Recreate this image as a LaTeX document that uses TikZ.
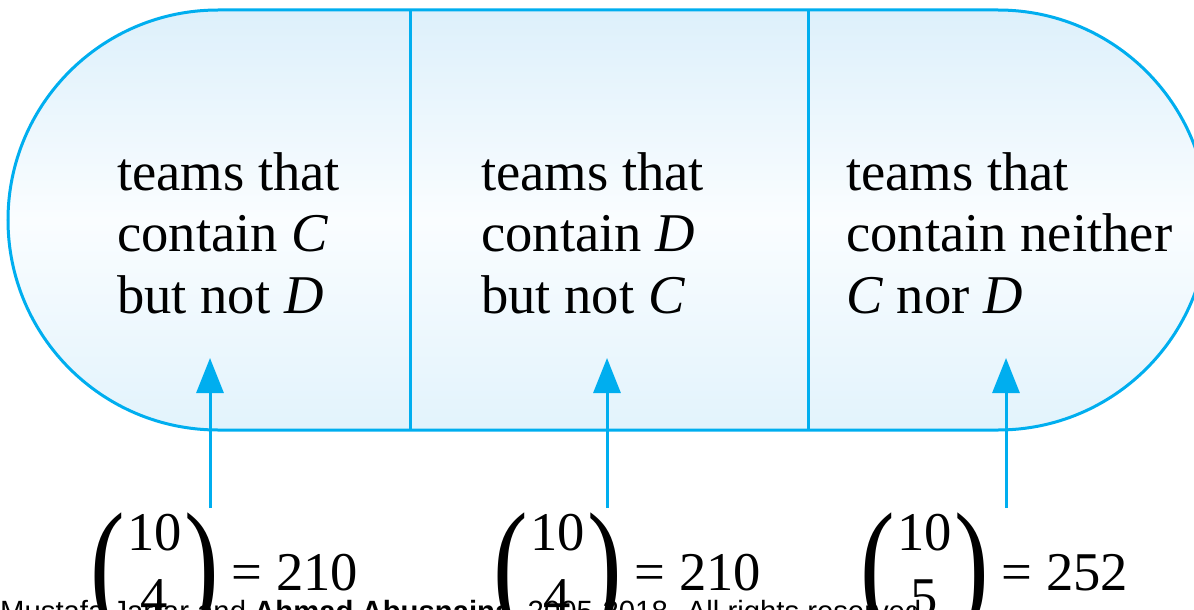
\RequirePackage{fix-cm}
\documentclass[tikz,border=0pt]{standalone}
\usepackage{graphicx}
\usepackage{fontspec}
\setmainfont{Liberation Serif}
\newfontfamily\marksans{Liberation Sans}
\usetikzlibrary{arrows.meta}
\definecolor{rim}{HTML}{00AEEF}
\definecolor{paletop}{HTML}{DDF0FB}
\definecolor{palemid}{HTML}{FAFDFF}
\definecolor{palebot}{HTML}{E2F3FC}
\tikzset{
  region/.style  ={draw=rim,line width=3pt,top color=paletop,
                   bottom color=palebot,middle color=palemid},
  divider/.style ={draw=rim,line width=3pt},
  setlabel/.style={anchor=base west,align=left,inner sep=0pt,
                   font=\fontsize{54.6}{61.5}\selectfont},
  count/.style   ={anchor=base west,inner sep=0pt,
                   font=\fontsize{54.6}{61.5}\selectfont},
  arr/.style     ={draw=rim,line width=3pt,-{Triangle[length=35pt,width=27pt]}}
}
\newcommand{\tallpar}[1]{\raisebox{-20pt}{\scalebox{1.9}[2.58]{#1}}}
\newcommand{\teamcount}[3]{\tallpar{(}\hspace{2.4pt}%
  \raisebox{-25pt}{\begin{tabular}[b]{@{}c@{}}#1\\[3.5pt]#2\end{tabular}}%
  \hspace{2.4pt}\tallpar{)}\hspace{12.7pt}=\hspace{14pt}#3}

\begin{document}
\begin{tikzpicture}[x=1pt,y=-1pt]
  \useasboundingbox (0,0) rectangle (1194,610);
  \clip (0,0) rectangle (1194,610);

  % Stadium
  \path[region] (218,10) -- (998,10) arc(-90:90:210)
     -- (218,430) arc(90:270:210) -- cycle;
  \draw[divider] (410,10) -- (410,430);
  \draw[divider] (808,10) -- (808,430);

  % Set labels (anchored on the last line)
  \node (cnotd)   at (117,313) [setlabel] {teams that\\contain \textit{C}\\but not \textit{D}};
  \node (dnotc)   at (481,313) [setlabel] {teams that\\contain \textit{D}\\but not \textit{C}};
  \node (neither) at (846,313) [setlabel] {teams that\\contain neither\\\textit{C} nor \textit{D}};

  % Counts
  \node (b1) at (90,590)  [count] {\teamcount{10}{4}{210}};
  \node (b2) at (493,590) [count] {\teamcount{10}{4}{210}};
  \node (b3) at (860,590) [count] {\teamcount{10}{5}{252}};

  % Arrows
  \coordinate (s1) at (210,508);  \coordinate (t1) at (210,358);
  \coordinate (s2) at (607,508);  \coordinate (t2) at (607,358);
  \coordinate (s3) at (1006,508); \coordinate (t3) at (1006,358);
  \draw[arr] (s1) -- (t1);
  \draw[arr] (s2) -- (t2);
  \draw[arr] (s3) -- (t3);

  % Watermark
  \node (mark) at (0,621) [anchor=base west,inner sep=0pt,
     font=\marksans\fontsize{29.3}{32}\selectfont]
     {Mustafa Jarrar and \textbf{Ahmad Abusnaina}, 2005-2018. All rights reserved};
\end{tikzpicture}
\end{document}
